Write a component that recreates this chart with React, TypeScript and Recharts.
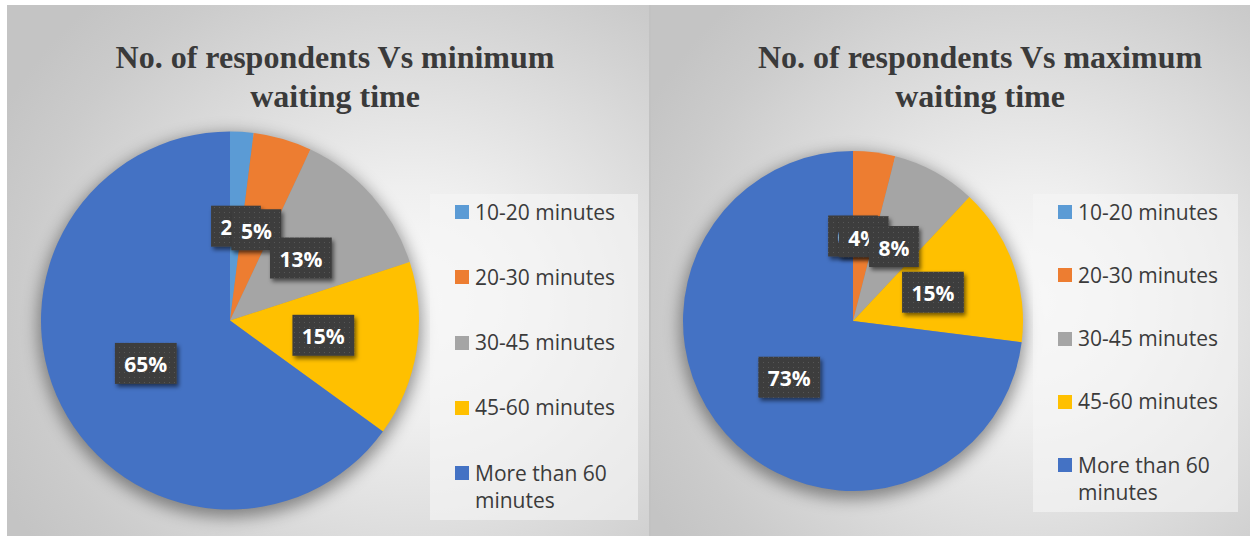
import React from 'react';
import { PieChart, Pie, Legend } from 'recharts';

// Waiting-time categories shared by both charts
const CATEGORIES = ['10-20 minutes', '20-30 minutes', '30-45 minutes', '45-60 minutes', 'More than 60 minutes'];
const COLORS = ['#5B9BD5', '#ED7D31', '#A5A5A5', '#FFC000', '#4472C4'];

// Share of respondents (%) per category
const MIN_WAIT = [2, 5, 13, 15, 65];
const MAX_WAIT = [0, 4, 8, 15, 73];

const TITLE_MIN = ['No. of respondents Vs minimum', 'waiting time'];
const TITLE_MAX = ['No. of respondents Vs maximum', 'waiting time'];

const buildData = (values: number[]) =>
  CATEGORIES.map((name, i) => ({ name, value: values[i], fill: COLORS[i] }));

const RADIAN = Math.PI / 180;
const LABEL_FONT = '"Open Sans", sans-serif';
const PANEL_BG =
  'radial-gradient(ellipse 72% 78% at 63% 56%, #fbfbfb 0%, #efefef 28%, #dcdcdc 58%, #cbcbcb 85%, #c4c4c4 100%)';

const textWidth = (s: string) =>
  s.split('').reduce((w, ch) => w + (ch === '%' ? 18.8 : 12), 0);

// Dark callout box with the percentage, centred halfway out along the slice
const renderLabel = (props: any) => {
  const { cx, cy, midAngle, outerRadius, value } = props;
  const r = outerRadius * 0.5;
  const x = cx + r * Math.cos(-midAngle * RADIAN);
  const y = cy + r * Math.sin(-midAngle * RADIAN);
  const text = `${value}%`;
  const w = textWidth(text) + 19;
  const h = 41;
  return (
    <g>
      <rect
        x={x - w / 2}
        y={y - h / 2}
        width={w}
        height={h}
        fill="url(#calloutDots)"
        filter="url(#calloutShadow)"
      />
      <text
        x={x}
        y={y + 1}
        textAnchor="middle"
        dominantBaseline="central"
        fill="#ffffff"
        fontFamily={LABEL_FONT}
        fontWeight={700}
        fontSize={21}
      >
        {text}
      </text>
    </g>
  );
};

type LegendCfg = { width: number; height: number; spacing: number };

const makeLegend = (cfg: LegendCfg) => (props: any) => {
  const payload = (props.payload || []).filter((p: any) => p.type !== 'none');
  return (
    <div
      style={{
        position: 'relative',
        width: cfg.width,
        height: cfg.height,
        background: 'rgba(246,246,246,0.62)',
      }}
    >
      {payload.map((entry: any, i: number) => (
        <div
          key={entry.value}
          style={{ position: 'absolute', left: 25, top: 4.5 + i * cfg.spacing, display: 'flex' }}
        >
          <span
            style={{
              display: 'inline-block',
              width: 14,
              height: 14,
              marginTop: 6.5,
              background: entry.color || COLORS[i],
              flex: 'none',
            }}
          />
          <span
            style={{
              marginLeft: 6,
              width: 150,
              fontFamily: LABEL_FONT,
              fontSize: 21,
              lineHeight: '27px',
              color: '#3b3b3b',
            }}
          >
            {entry.value}
          </span>
        </div>
      ))}
    </div>
  );
};

type PanelProps = {
  left: number;
  width: number;
  values: number[];
  title: string[];
  titleCenter: number;
  cx: number;
  cy: number;
  radius: number;
  legendLeft: number;
  legend: LegendCfg;
  borderLeft?: boolean;
};

function Panel(p: PanelProps) {
  const H = 531;
  const data = buildData(p.values);
  return (
    <div
      style={{
        position: 'absolute',
        left: p.left,
        top: 5,
        width: p.width,
        height: H,
        background: PANEL_BG,
        borderLeft: p.borderLeft ? '2px solid #c2c2c2' : undefined,
        boxSizing: 'border-box',
        overflow: 'hidden',
      }}
    >
      <div
        style={{
          position: 'absolute',
          left: p.titleCenter - 300,
          width: 600,
          top: 33,
          textAlign: 'center',
          fontFamily: '"Liberation Serif", "Times New Roman", serif',
          fontWeight: 700,
          fontSize: 32,
          lineHeight: '39px',
          color: '#3a3a3a',
        }}
      >
        {p.title.map((line) => (
          <div key={line}>{line}</div>
        ))}
      </div>
      <PieChart width={p.width} height={H} margin={{ top: 0, right: 0, bottom: 0, left: 0 }}>
        <Pie
          data={[{ name: 'shadow', value: 1, fill: '#000000' }]}
          dataKey="value"
          nameKey="name"
          cx={p.cx}
          cy={p.cy + 5}
          outerRadius={p.radius + 3}
          startAngle={90}
          endAngle={-270}
          stroke="none"
          fillOpacity={0.4}
          style={{ filter: 'blur(8px)' }}
          legendType="none"
          isAnimationActive={false}
        />
        <Pie
          data={data}
          dataKey="value"
          nameKey="name"
          cx={p.cx}
          cy={p.cy}
          outerRadius={p.radius}
          startAngle={90}
          endAngle={-270}
          stroke="none"
          labelLine={false}
          label={renderLabel}
          isAnimationActive={false}
        />
        <Legend
          layout="vertical"
          align="right"
          verticalAlign="top"
          content={makeLegend(p.legend)}
          wrapperStyle={{ left: p.legendLeft, top: 189, width: p.legend.width, height: p.legend.height }}
        />
      </PieChart>
    </div>
  );
}

export default function App() {
  return (
    <div
      style={{
        position: 'absolute',
        left: 0,
        top: 0,
        width: 1253,
        height: 536,
        background: '#ffffff',
        overflow: 'hidden',
      }}
    >
      <svg width={0} height={0} style={{ position: 'absolute' }}>
        <defs>
          <pattern id="calloutDots" width={5} height={5} patternUnits="userSpaceOnUse">
            <rect width={5} height={5} fill="#3e3e3e" />
            <rect x={2} y={2} width={1} height={1} fill="#575757" />
          </pattern>
          <filter id="calloutShadow" x="-30%" y="-30%" width="160%" height="170%">
            <feDropShadow dx={2} dy={3} stdDeviation={2} floodColor="#000" floodOpacity={0.55} />
          </filter>
        </defs>
      </svg>
      <Panel
        left={7}
        width={643}
        values={MIN_WAIT}
        title={TITLE_MIN}
        titleCenter={328}
        cx={223}
        cy={315.5}
        radius={189}
        legendLeft={423}
        legend={{ width: 208, height: 326, spacing: 65.3 }}
      />
      <Panel
        left={649}
        width={601}
        values={MAX_WAIT}
        title={TITLE_MAX}
        titleCenter={329}
        cx={202}
        cy={316}
        radius={170}
        legendLeft={382}
        legend={{ width: 205, height: 318, spacing: 63.3 }}
        borderLeft
      />
    </div>
  );
}
